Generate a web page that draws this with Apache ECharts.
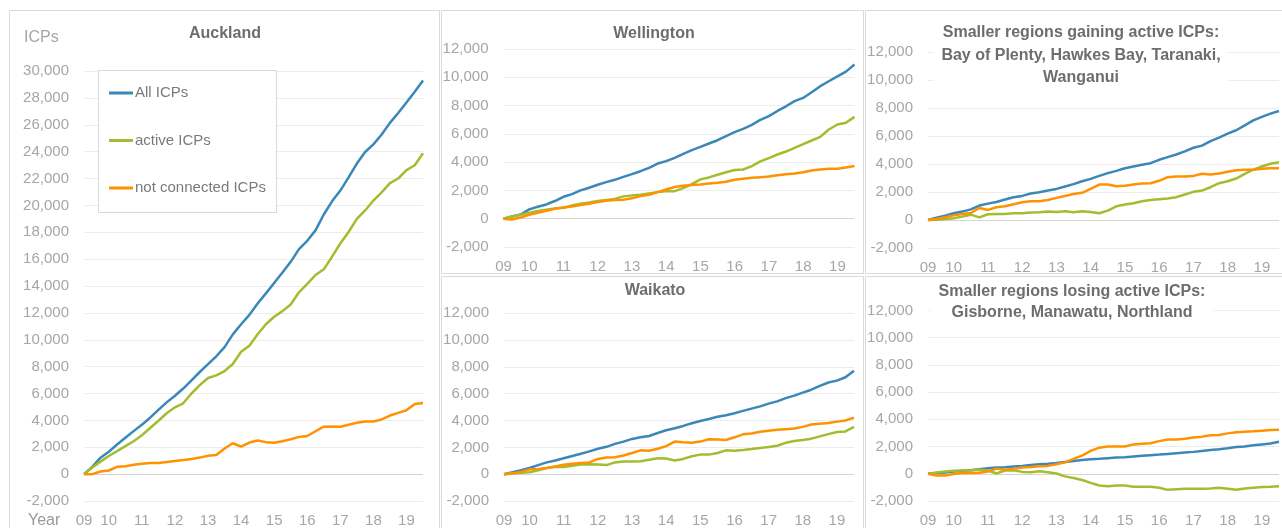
<!DOCTYPE html>
<html>
<head>
<meta charset="utf-8">
<title>ICPs by region</title>
<script src="https://cdn.jsdelivr.net/npm/echarts@6/dist/echarts.min.js"></script>
<style>
	html, body { margin: 0; padding: 0; background: #fff; }
	#main { width: 1282px; height: 528px; }
</style>
</head>
<body>
<div id="main"></div>
<script>
// quarterly points, Apr 2009 .. Jul 2019
var quarters = ['Apr 09', 'Jul 09', 'Oct 09',
	'Jan 10', 'Apr 10', 'Jul 10', 'Oct 10', 'Jan 11', 'Apr 11', 'Jul 11', 'Oct 11',
	'Jan 12', 'Apr 12', 'Jul 12', 'Oct 12', 'Jan 13', 'Apr 13', 'Jul 13', 'Oct 13',
	'Jan 14', 'Apr 14', 'Jul 14', 'Oct 14', 'Jan 15', 'Apr 15', 'Jul 15', 'Oct 15',
	'Jan 16', 'Apr 16', 'Jul 16', 'Oct 16', 'Jan 17', 'Apr 17', 'Jul 17', 'Oct 17',
	'Jan 18', 'Apr 18', 'Jul 18', 'Oct 18', 'Jan 19', 'Apr 19', 'Jul 19'];

var seriesNames = ['All ICPs', 'active ICPs', 'not connected ICPs'];

// Auckland
var aklAll = [0, 540, 1225, 1670, 2200, 2700, 3200, 3680, 4200, 4780, 5340, 5830, 6370, 6980, 7600, 8180, 8770, 9450, 10400, 11150, 11850, 12700, 13450, 14230, 15000, 15800, 16740, 17360, 18140, 19320, 20300, 21100, 22080, 23110, 23970, 24540, 25280, 26140, 26880, 27660, 28450, 29290];
var aklActive = [0, 490, 930, 1350, 1715, 2080, 2450, 2890, 3430, 3970, 4530, 4970, 5270, 6000, 6620, 7150, 7350, 7670, 8200, 9110, 9550, 10410, 11150, 11710, 12130, 12620, 13530, 14160, 14820, 15240, 16180, 17160, 18020, 19000, 19620, 20360, 20970, 21660, 22000, 22620, 22990, 23880];
var aklNotConn = [0, 0, 200, 270, 540, 590, 690, 780, 830, 830, 900, 980, 1050, 1130, 1230, 1370, 1420, 1910, 2300, 2050, 2350, 2500, 2380, 2330, 2450, 2600, 2770, 2840, 3190, 3530, 3550, 3530, 3680, 3820, 3920, 3920, 4070, 4360, 4560, 4750, 5220, 5300];

// Wellington
var welAll = [0, 160, 300, 660, 850, 1010, 1250, 1550, 1740, 2000, 2190, 2400, 2590, 2750, 2960, 3150, 3360, 3600, 3900, 4070, 4300, 4590, 4850, 5080, 5320, 5550, 5840, 6120, 6350, 6640, 6990, 7250, 7620, 7950, 8310, 8540, 8940, 9370, 9720, 10070, 10400, 10900];
var welActive = [0, 160, 280, 420, 540, 640, 730, 780, 940, 1060, 1150, 1250, 1320, 1390, 1580, 1650, 1690, 1790, 1880, 1950, 1950, 2160, 2450, 2780, 2920, 3110, 3290, 3440, 3480, 3720, 4050, 4280, 4540, 4750, 5010, 5270, 5530, 5790, 6310, 6660, 6780, 7200];
var welNotConn = [0, -50, 90, 280, 420, 560, 710, 800, 870, 960, 1060, 1180, 1270, 1320, 1340, 1440, 1600, 1690, 1880, 2070, 2240, 2330, 2380, 2420, 2490, 2540, 2610, 2750, 2820, 2890, 2940, 2990, 3080, 3150, 3200, 3290, 3410, 3480, 3530, 3530, 3620, 3720];

// Bay of Plenty, Hawkes Bay, Taranaki, Wanganui
var gainAll = [0, 170, 310, 480, 600, 760, 1030, 1170, 1290, 1460, 1630, 1720, 1890, 1980, 2100, 2220, 2390, 2560, 2770, 2940, 3150, 3350, 3510, 3700, 3820, 3940, 4060, 4300, 4490, 4680, 4900, 5160, 5310, 5640, 5880, 6170, 6410, 6760, 7120, 7360, 7600, 7790];
var gainActive = [0, 20, 70, 120, 240, 380, 190, 410, 430, 430, 480, 480, 530, 550, 600, 570, 620, 550, 620, 570, 480, 670, 980, 1100, 1200, 1340, 1430, 1480, 1530, 1630, 1820, 2010, 2100, 2340, 2630, 2770, 2960, 3300, 3590, 3820, 4020, 4130];
var gainNotConn = [0, 70, 190, 330, 430, 500, 860, 720, 910, 980, 1120, 1270, 1340, 1340, 1430, 1580, 1720, 1860, 1940, 2220, 2530, 2530, 2410, 2440, 2530, 2610, 2630, 2800, 3060, 3110, 3110, 3150, 3300, 3250, 3320, 3440, 3560, 3590, 3590, 3660, 3700, 3700];

// Waikato
var waiAll = [0, 150, 290, 460, 680, 880, 1020, 1190, 1360, 1530, 1700, 1900, 2040, 2260, 2430, 2630, 2750, 2850, 3070, 3280, 3430, 3600, 3800, 3970, 4110, 4280, 4400, 4550, 4720, 4890, 5060, 5260, 5430, 5670, 5860, 6080, 6300, 6590, 6840, 6980, 7230, 7710];
var waiActive = [0, 50, 100, 150, 290, 460, 560, 540, 630, 730, 750, 730, 680, 880, 950, 950, 970, 1070, 1190, 1170, 1020, 1140, 1340, 1460, 1460, 1580, 1780, 1750, 1800, 1870, 1950, 2020, 2120, 2340, 2480, 2550, 2650, 2820, 2990, 3140, 3190, 3530];
var waiNotConn = [0, 70, 170, 360, 390, 460, 580, 710, 780, 830, 880, 1140, 1240, 1270, 1390, 1580, 1780, 1750, 1900, 2090, 2430, 2380, 2340, 2430, 2600, 2580, 2550, 2750, 2970, 3040, 3160, 3240, 3310, 3360, 3410, 3530, 3700, 3770, 3820, 3920, 4010, 4210];

// Gisborne, Manawatu, Northland
var loseAll = [0, 50, 100, 170, 220, 260, 340, 410, 460, 480, 530, 580, 650, 700, 740, 790, 860, 940, 1010, 1060, 1100, 1150, 1200, 1220, 1270, 1320, 1370, 1410, 1460, 1510, 1560, 1610, 1680, 1750, 1800, 1870, 1970, 2010, 2090, 2160, 2230, 2350];
var loseActive = [0, 100, 170, 220, 240, 260, 290, 240, 20, 240, 260, 140, 120, 190, 120, 20, -190, -310, -460, -670, -860, -910, -860, -860, -960, -960, -960, -1030, -1180, -1130, -1100, -1100, -1100, -1080, -1030, -1100, -1180, -1080, -1030, -980, -960, -910];
var loseNotConn = [0, -120, -120, -20, 50, 50, 70, 170, 380, 290, 360, 460, 500, 550, 580, 700, 840, 1100, 1340, 1680, 1920, 2010, 2010, 2010, 2160, 2210, 2250, 2400, 2520, 2520, 2570, 2660, 2730, 2830, 2850, 2970, 3050, 3090, 3120, 3170, 3210, 3240];

var myChart = echarts.init(document.getElementById('main'));

var lineColors = ['#3b87b7', '#a2bd2f', '#ff9200'];
var labelColor = '#a6a6a6';
var fontFamily = '"Liberation Sans", Arial, sans-serif';

// one entry per small chart
var panels = [
	{ title: 'Auckland', data: [aklAll, aklActive, aklNotConn], max: 30000,
		grid: { left: 84, top: 71, width: 339, height: 433 },
		tx: 225, ty: 22.2, lh: 22, bg: false },
	{ title: 'Wellington', data: [welAll, welActive, welNotConn], max: 12000,
		grid: { left: 503.5, top: 49, width: 351, height: 198 },
		tx: 654, ty: 22.2, lh: 22, bg: false },
	{ title: 'Smaller regions gaining active ICPs:\nBay of Plenty, Hawkes Bay, Taranaki,\nWanganui', data: [gainAll, gainActive, gainNotConn], max: 12000,
		grid: { left: 928, top: 52, width: 351, height: 196 },
		tx: 1081, ty: 21.8, lh: 22.5, bg: true },
	{ title: 'Waikato', data: [waiAll, waiActive, waiNotConn], max: 12000,
		grid: { left: 504, top: 313.3, width: 350, height: 191.7 },
		tx: 655, ty: 279.5, lh: 22, bg: false },
	{ title: 'Smaller regions losing active ICPs:\nGisborne, Manawatu, Northland', data: [loseAll, loseActive, loseNotConn], max: 12000,
		grid: { left: 928, top: 310.5, width: 351, height: 194.5 },
		tx: 1072, ty: 280.5, lh: 21.7, bg: true }
];

// gridline colours, the zero line a little darker
function splitColors(max) {
	var c = [];
	for (var v = -2000; v <= max; v += 2000) {
		c.push(v === 0 ? '#d4d4d4' : '#ececec');
	}
	return c;
}

var option = {
	animation: false,
	textStyle: { fontFamily: fontFamily },
	title: [],
	grid: [],
	xAxis: [],
	yAxis: [],
	series: [],
	legend: {
		orient: 'vertical',
		left: 109,
		top: 84,
		padding: 0,
		itemWidth: 24,
		itemHeight: 3,
		itemGap: 29.5,
		icon: 'rect',
		selectedMode: false,
		data: seriesNames,
		textStyle: { fontSize: 15, color: '#7a7a7a', lineHeight: 18, fontFamily: fontFamily, padding: [0, 0, 0, -3] }
	},
	graphic: [
		// panel frames
		{ type: 'rect', shape: { x: 9.5, y: 10.5, width: 430, height: 530 }, style: { fill: 'none', stroke: '#dadada', lineWidth: 1 }, silent: true },
		{ type: 'rect', shape: { x: 441.5, y: 10.5, width: 422, height: 263 }, style: { fill: 'none', stroke: '#dadada', lineWidth: 1 }, silent: true },
		{ type: 'rect', shape: { x: 865.5, y: 10.5, width: 430, height: 263 }, style: { fill: 'none', stroke: '#dadada', lineWidth: 1 }, silent: true },
		{ type: 'rect', shape: { x: 441.5, y: 276.5, width: 422, height: 260 }, style: { fill: 'none', stroke: '#dadada', lineWidth: 1 }, silent: true },
		{ type: 'rect', shape: { x: 865.5, y: 276.5, width: 430, height: 260 }, style: { fill: 'none', stroke: '#dadada', lineWidth: 1 }, silent: true },
		// legend box
		{ type: 'rect', z: 3, shape: { x: 98.5, y: 70.5, width: 178, height: 142 }, style: { fill: '#fff', stroke: '#d9d9d9', lineWidth: 1 }, silent: true },
		// axis captions
		{ type: 'text', x: 24, y: 38, style: { text: 'ICPs', fontSize: 16, fill: labelColor, fontFamily: fontFamily, verticalAlign: 'middle' }, silent: true },
		{ type: 'text', x: 28, y: 521, style: { text: 'Year', fontSize: 16, fill: '#9a9a9a', fontFamily: fontFamily, verticalAlign: 'middle' }, silent: true }
	]
};

for (var n = 0; n < panels.length; n++) {
	var p = panels[n];

	option.title.push({
		text: p.title,
		left: p.tx - 8,
		top: p.ty - 1,
		textAlign: 'center',
		textVerticalAlign: 'top',
		padding: [1, 8, 4, 8],
		backgroundColor: p.bg ? '#fff' : 'transparent',
		textStyle: {
			fontSize: 16,
			fontWeight: 'bold',
			color: '#6d6d6d',
			lineHeight: p.lh,
			fontFamily: fontFamily
		}
	});

	option.grid.push(p.grid);

	option.xAxis.push({
		type: 'category',
		gridIndex: n,
		data: quarters,
		boundaryGap: false,
		axisLine: { show: false },
		axisTick: { show: false },
		splitLine: { show: false },
		axisLabel: {
			interval: function(index, value) {
				return index === 0 || value.indexOf('Jan') === 0;
			},
			formatter: function(value) {
				return value.slice(-2);
			},
			color: labelColor,
			fontSize: 15,
			margin: 12
		}
	});

	option.yAxis.push({
		type: 'value',
		gridIndex: n,
		min: -2000,
		max: p.max,
		interval: 2000,
		axisLine: { show: false },
		axisTick: { show: false },
		axisLabel: {
			color: labelColor,
			fontSize: 15,
			margin: 15,
			formatter: function(v) {
				return v.toLocaleString('en-US');
			}
		},
		splitLine: {
			lineStyle: { color: splitColors(p.max), width: 1 }
		}
	});

	for (var k = 0; k < 3; k++) {
		option.series.push({
			name: seriesNames[k],
			type: 'line',
			xAxisIndex: n,
			yAxisIndex: n,
			data: p.data[k],
			symbol: 'none',
			silent: true,
			lineStyle: { width: 2.5, color: lineColors[k] },
			itemStyle: { color: lineColors[k] },
			emphasis: { disabled: true }
		});
	}
}

myChart.setOption(option);
</script>
</body>
</html>
